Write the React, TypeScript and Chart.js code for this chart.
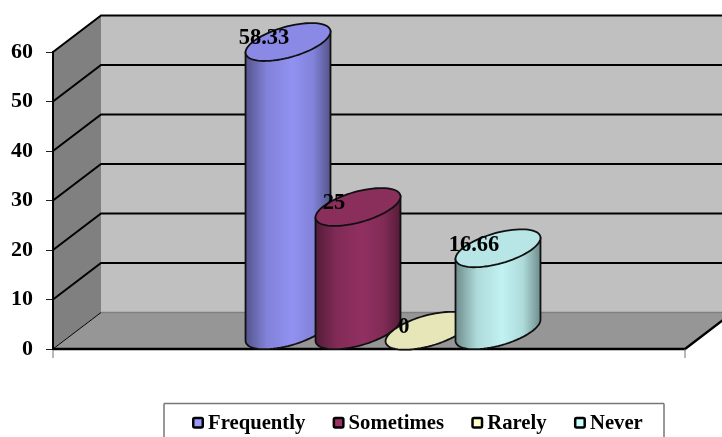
import React, { useEffect, useRef } from "react";
import { Chart, registerables } from "chart.js";

Chart.register(...registerables);

const categories = ["Responses"];
const seriesNames = ["Frequently", "Sometimes", "Rarely", "Never"];
const frequently = [58.33];
const sometimes = [25];
const rarely = [0];
const never = [16.66];
const seriesValues = [frequently, sometimes, rarely, never];
const seriesColors = ["#9999FF", "#993366", "#FFFFCC", "#CCFFFF"];

const SERIF = '"Liberation Serif", "Times New Roman", serif';
const DEPTH_X = 48;
const DEPTH_Y = 36.5;

function shade(hex: string, k: number) {
  const n = parseInt(hex.slice(1), 16);
  const c = [(n >> 16) & 255, (n >> 8) & 255, n & 255].map((v) => Math.round(v * k));
  return `rgb(${c[0]},${c[1]},${c[2]})`;
}

// Traces a slanted ellipse: the sheared circle a cylinder shows in the oblique view.
function ellipsePath(ctx: CanvasRenderingContext2D, cx: number, cy: number, a: number) {
  const slant = a * 0.247;
  const rise = a * 0.372;
  ctx.beginPath();
  for (let i = 0; i <= 72; i++) {
    const t = (i / 72) * Math.PI * 2;
    const x = cx + a * Math.cos(t);
    const y = cy - slant * Math.cos(t) + rise * Math.sin(t);
    if (i === 0) ctx.moveTo(x, y);
    else ctx.lineTo(x, y);
  }
  ctx.closePath();
}

function drawCylinder(
  ctx: CanvasRenderingContext2D,
  cx: number,
  top: number,
  bottom: number,
  a: number,
  color: string
) {
  const slant = a * 0.247;
  const rise = a * 0.372;
  const grad = ctx.createLinearGradient(cx - a, 0, cx + a, 0);
  grad.addColorStop(0, shade(color, 0.55));
  grad.addColorStop(0.25, shade(color, 0.85));
  grad.addColorStop(0.55, shade(color, 0.95));
  grad.addColorStop(0.8, shade(color, 0.85));
  grad.addColorStop(1, shade(color, 0.55));

  ctx.save();
  ctx.lineWidth = 1.8;
  ctx.strokeStyle = "#101010";
  if (bottom - top > 0.5) {
    // Body: lower half of the base ellipse joined to the top ellipse's end points.
    ctx.beginPath();
    ctx.moveTo(cx - a, top + slant);
    ctx.lineTo(cx - a, bottom + slant);
    for (let i = 1; i <= 36; i++) {
      const t = Math.PI - (i / 36) * Math.PI;
      ctx.lineTo(cx + a * Math.cos(t), bottom - slant * Math.cos(t) + rise * Math.sin(t));
    }
    ctx.lineTo(cx + a, top - slant);
    ctx.closePath();
    ctx.fillStyle = grad;
    ctx.fill();
    ctx.stroke();
  }
  ellipsePath(ctx, cx, top, a);
  ctx.fillStyle = shade(color, 0.9);
  ctx.fill();
  ctx.stroke();
  ctx.restore();
}

const obliqueFrame = {
  id: "obliqueFrame",
  beforeDraw(chart: any) {
    const { ctx, chartArea: area, scales } = chart;
    const y = scales.y;
    const { left, right, top, bottom } = area;
    ctx.save();
    // Back wall, side wall and floor.
    ctx.fillStyle = "#C0C0C0";
    ctx.fillRect(left + DEPTH_X, top - DEPTH_Y, right - left, bottom - top);
    ctx.fillStyle = "#808080";
    ctx.beginPath();
    ctx.moveTo(left, top);
    ctx.lineTo(left + DEPTH_X, top - DEPTH_Y);
    ctx.lineTo(left + DEPTH_X, bottom - DEPTH_Y);
    ctx.lineTo(left, bottom);
    ctx.closePath();
    ctx.fill();
    ctx.fillStyle = "#969696";
    ctx.beginPath();
    ctx.moveTo(left, bottom);
    ctx.lineTo(right, bottom);
    ctx.lineTo(right + DEPTH_X, bottom - DEPTH_Y);
    ctx.lineTo(left + DEPTH_X, bottom - DEPTH_Y);
    ctx.closePath();
    ctx.fill();
    // Floor edge at the foot of the back wall.
    ctx.strokeStyle = "#808080";
    ctx.lineWidth = 1.5;
    ctx.beginPath();
    ctx.moveTo(left + DEPTH_X, bottom - DEPTH_Y);
    ctx.lineTo(right + DEPTH_X, bottom - DEPTH_Y);
    ctx.stroke();
    // Grid lines fold from the side wall across the back wall.
    ctx.strokeStyle = "#000";
    for (const tick of y.ticks) {
      const py = y.getPixelForValue(tick.value);
      ctx.lineWidth = tick.value === 0 ? 1 : 2;
      ctx.beginPath();
      ctx.moveTo(left, py);
      ctx.lineTo(left + DEPTH_X, py - DEPTH_Y);
      if (tick.value !== 0) ctx.lineTo(right + DEPTH_X, py - DEPTH_Y);
      ctx.stroke();
    }
    // Front and right edges of the floor, with the short drop marks below them.
    ctx.lineWidth = 2.4;
    ctx.beginPath();
    ctx.moveTo(left, bottom);
    ctx.lineTo(right, bottom);
    ctx.lineTo(right + DEPTH_X, bottom - DEPTH_Y);
    ctx.stroke();
    ctx.strokeStyle = "#707070";
    ctx.lineWidth = 1;
    ctx.beginPath();
    ctx.moveTo(left, bottom);
    ctx.lineTo(left, bottom + 9);
    ctx.moveTo(right, bottom);
    ctx.lineTo(right, bottom + 9);
    ctx.stroke();
    ctx.restore();
  },
};

const cylinders = {
  id: "cylinders",
  afterDatasetsDraw(chart: any) {
    const { ctx } = chart;
    const halfDepthX = DEPTH_X / 2;
    const halfDepthY = DEPTH_Y / 2;
    // Painted first to last so later series overlap earlier ones.
    seriesValues.forEach((_, i) => {
      chart.getDatasetMeta(i).data.forEach((bar: any) => {
        drawCylinder(
          ctx,
          bar.x + halfDepthX,
          bar.y - halfDepthY,
          bar.base - halfDepthY,
          bar.width / 2,
          seriesColors[i]
        );
      });
    });
    ctx.save();
    ctx.font = `bold 22.5px ${SERIF}`;
    ctx.fillStyle = "#000";
    ctx.textAlign = "center";
    ctx.textBaseline = "alphabetic";
    seriesValues.forEach((values, i) => {
      chart.getDatasetMeta(i).data.forEach((bar: any, k: number) => {
        ctx.fillText(String(values[k]), bar.x, bar.y - 16);
      });
    });
    ctx.restore();
  },
};

const legendStrip = {
  id: "legendStrip",
  afterDraw(chart: any) {
    const { ctx } = chart;
    const boxLeft = 164;
    const boxTop = 403.5;
    const boxRight = 664;
    ctx.save();
    ctx.fillStyle = "#fff";
    ctx.fillRect(boxLeft, boxTop, boxRight - boxLeft, 40);
    ctx.strokeStyle = "#333";
    ctx.lineWidth = 1;
    ctx.beginPath();
    ctx.moveTo(boxLeft, 437);
    ctx.lineTo(boxLeft, boxTop);
    ctx.moveTo(boxRight, boxTop);
    ctx.lineTo(boxRight, 437);
    ctx.stroke();
    ctx.strokeStyle = "#777";
    ctx.lineWidth = 1.6;
    ctx.beginPath();
    ctx.moveTo(boxLeft, boxTop);
    ctx.lineTo(boxRight, boxTop);
    ctx.stroke();
    ctx.font = `bold 20.7px ${SERIF}`;
    ctx.textBaseline = "alphabetic";
    let x = 192;
    seriesNames.forEach((name, i) => {
      ctx.fillStyle = seriesColors[i];
      ctx.strokeStyle = "#000";
      ctx.lineWidth = 2.5;
      ctx.beginPath();
      ctx.roundRect(x + 1.25, 418, 9.5, 9.5, 1.5);
      ctx.fill();
      ctx.stroke();
      ctx.fillStyle = "#000";
      ctx.fillText(name, x + 16, 429);
      x += 16 + ctx.measureText(name).width + 27.3;
    });
    ctx.restore();
  },
};

export default function App() {
  const ref = useRef<HTMLCanvasElement | null>(null);

  useEffect(() => {
    if (!ref.current) return;
    const chart = new Chart(ref.current, {
      type: "bar",
      data: {
        labels: categories,
        datasets: seriesNames.map((label, i) => ({
          label,
          data: seriesValues[i],
          backgroundColor: "transparent",
          borderWidth: 0,
          categoryPercentage: 0.443,
          barPercentage: 1.214,
        })),
      },
      options: {
        responsive: false,
        animation: false,
        layout: { padding: { top: 52, right: 37, bottom: 88, left: 0 } },
        plugins: {
          legend: { display: false },
          tooltip: { enabled: false },
        },
        scales: {
          x: { display: false },
          y: {
            min: 0,
            max: 60,
            afterFit(scale: any) {
              scale.width = 53;
            },
            ticks: {
              stepSize: 10,
              color: "#000",
              padding: 13,
              font: { family: SERIF, size: 22, weight: "bold" },
            },
            grid: {
              drawOnChartArea: false,
              drawTicks: true,
              tickLength: 7,
              color: "#222",
              lineWidth: 1,
            },
            border: { display: true, color: "#000", width: 2 },
          },
        },
      },
      plugins: [obliqueFrame, cylinders, legendStrip],
    } as any);
    return () => chart.destroy();
  }, []);

  return (
    <canvas
      ref={ref}
      width={722}
      height={437}
      style={{ position: "absolute", left: 0, top: 0, width: 722, height: 437, display: "block" }}
    />
  );
}
